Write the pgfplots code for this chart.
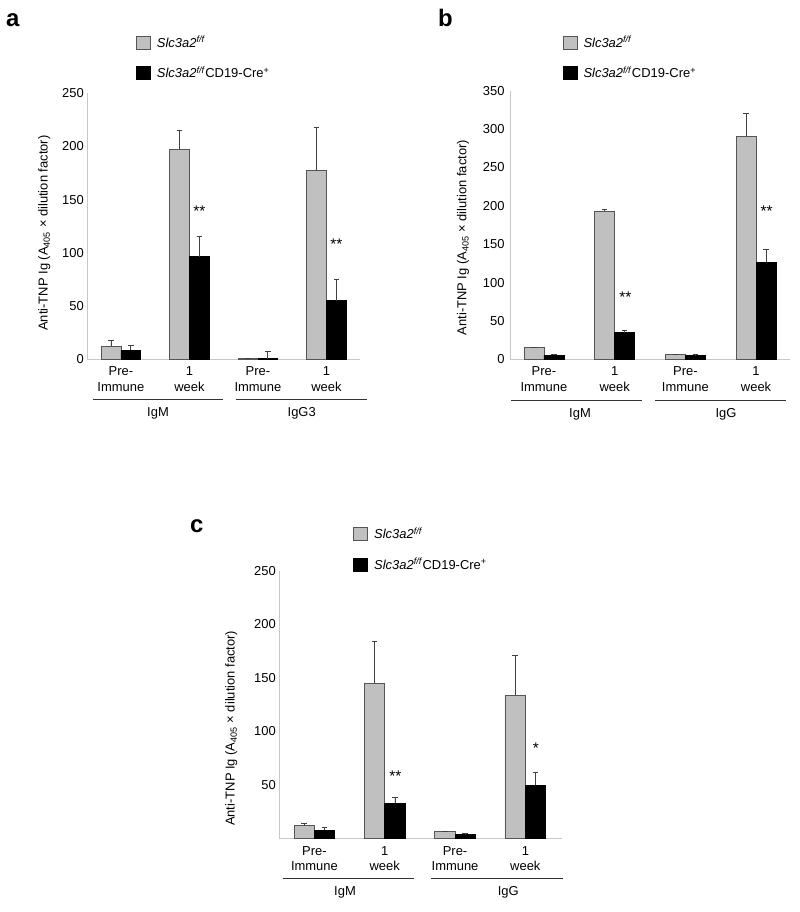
\documentclass[border=0pt]{standalone}
\usepackage{pgfplots}
\pgfplotsset{compat=1.18}
\usepackage{fontspec}
\setmainfont{Liberation Sans}
\definecolor{bargrey}{RGB}{192,192,192}
\definecolor{bardraw}{RGB}{85,85,85}
\definecolor{axgrey}{RGB}{200,200,200}
\newcommand{\fs}{\fontsize{13}{15.7}\selectfont}
\newcommand{\fst}{\fontsize{15.5}{17}\selectfont}
\pgfplotsset{
  panel/.style={
    scale only axis, anchor=south west,
    ybar=0pt,
    axis x line*=bottom, axis y line*=left,
    axis line style={axgrey, line width=0.6bp, -},
    major tick length=0pt,
    xtick={0,1,2,3},
    xticklabels={{Pre-\\Immune},{1\\week},{Pre-\\Immune},{1\\week}},
    xticklabel style={align=center, font=\fs, yshift=-4bp},
    yticklabel style={font=\fs},
    /pgf/number format/assume math mode=true,
    ylabel={Anti-TNP Ig (A\textsubscript{405} × dilution factor)},
    ymin=0, clip=false,
    legend style={draw=none, fill=none, inner sep=0pt, font=\fs, row sep=14bp,
      anchor=north west, cells={anchor=west}},
    legend image code/.code={\draw[##1] (0bp,-6.5bp) rectangle (14bp,6.5bp); \path (18bp,0bp);},
  },
  errs/.style={error bars/.cd, y dir=plus, y explicit,
    error bar style={line width=0.7bp, black!75},
    error mark options={rotate=90, mark size=2.8bp, line width=0.7bp, black!75}},
  greybar/.style={fill=bargrey, draw=bardraw, line width=0.7bp, bar shift=-#1},
  blackbar/.style={fill=black, draw=black, line width=0.7bp, bar shift=#1},
}
\begin{document}
\begin{tikzpicture}[x=1bp,y=1bp]
\path[use as bounding box] (0,0) rectangle (800,912);
% Panel a
\begin{axis}[panel, at={(87.3bp,553bp)}, width=272.7bp, height=265.7bp,
  xmin=-0.49, xmax=3.49, ymax=250, ytick={0,50,...,250}, bar width=0.29,
  ylabel style={font=\fs, at={(ticklabel cs:0.474)}}, ylabel shift=5bp,
  legend style={at={(axis description cs:0.1786,1.223)}}]
\addplot[greybar=0.145, errs] coordinates {(0,12.2) +- (0,5.1) (1,197.3) +- (0,18.2) (2,0.3) +- (0,0) (3,177.2) +- (0,40.5)};
\addplot[blackbar=0.145, errs] coordinates {(0,8.2) +- (0,4.3) (1,96.3) +- (0,19.4) (2,0.3) +- (0,6.6) (3,54.9) +- (0,20.1)};
\legend{\textit{Slc3a2}\textsuperscript{\textit{f/f}}, \textit{Slc3a2}\textsuperscript{\textit{f/f}}CD19-Cre\textsuperscript{+}}
\node[font=\fst] at (axis cs:1.145,139) {**};
\node[font=\fst] at (axis cs:3.145,108) {**};
\end{axis}
% Panel b
\begin{axis}[panel, at={(510bp,552.7bp)}, width=280bp, height=268.6bp,
  xmin=-0.48, xmax=3.48, ymax=350, ytick={0,50,...,350}, bar width=0.283,
  yticklabel style={xshift=-2bp},
  ylabel style={font=\fs, at={(ticklabel cs:0.453)}}, ylabel shift=7bp,
  legend style={at={(axis description cs:0.188,1.211)}}]
\addplot[greybar=0.1415, errs] coordinates {(0,15.6) +- (0,0) (1,192.8) +- (0,2.6) (2,6.5) +- (0,0.5) (3,290) +- (0,30.5)};
\addplot[blackbar=0.1415, errs] coordinates {(0,5.2) +- (0,1.8) (1,34.7) +- (0,3.1) (2,4.8) +- (0,2.2) (3,126.4) +- (0,16.9)};
\legend{\textit{Slc3a2}\textsuperscript{\textit{f/f}}, \textit{Slc3a2}\textsuperscript{\textit{f/f}}CD19-Cre\textsuperscript{+}}
\node[font=\fst] at (axis cs:1.15,80.5) {**};
\node[font=\fst] at (axis cs:3.15,193.5) {**};
\end{axis}
% Panel c
\begin{axis}[panel, at={(279.3bp,73.3bp)}, width=282.4bp, height=268bp,
  xmin=-0.5, xmax=3.517, ymax=250, ytick={50,100,...,250}, bar width=0.29,
  ylabel style={font=\fs, at={(ticklabel cs:0.412)}}, ylabel shift=10bp,
  legend style={at={(axis description cs:0.262,1.168)}}]
\addplot[greybar=0.145, errs] coordinates {(0,12.1) +- (0,2.2) (1,145) +- (0,39.4) (2,6.5) +- (0,0) (3,133.7) +- (0,37.1)};
\addplot[blackbar=0.145, errs] coordinates {(0,8.1) +- (0,2.2) (1,33.3) +- (0,5) (2,4) +- (0,0.7) (3,50) +- (0,11.9)};
\legend{\textit{Slc3a2}\textsuperscript{\textit{f/f}}, \textit{Slc3a2}\textsuperscript{\textit{f/f}}CD19-Cre\textsuperscript{+}}
\node[font=\fst] at (axis cs:1.15,58.5) {**};
\node[font=\fst] at (axis cs:3.15,84.8) {*};
\end{axis}
% group lines and labels
\begin{scope}[line width=0.8bp, black!80]
\draw (92.7,513) -- (223,513); \draw (236,513) -- (367,513);
\draw (511,512) -- (642,512); \draw (655,512) -- (786,512);
\draw (282.7,33.7) -- (414.3,33.7); \draw (430.7,33.7) -- (562.7,33.7);
\end{scope}
\node[font=\fs, anchor=base] at (158,495) {IgM};
\node[font=\fs, anchor=base] at (301.7,495) {IgG3};
\node[font=\fs, anchor=base] at (580,494.7) {IgM};
\node[font=\fs, anchor=base] at (726,494.7) {IgG};
\node[font=\fs, anchor=base] at (345,16) {IgM};
\node[font=\fs, anchor=base] at (508.3,16) {IgG};
% panel letters
\node[font=\fontsize{24}{28}\selectfont\bfseries, anchor=base west, inner sep=0pt] at (6,885) {a};
\node[font=\fontsize{24}{28}\selectfont\bfseries, anchor=base west, inner sep=0pt] at (438,885) {b};
\node[font=\fontsize{24}{28}\selectfont\bfseries, anchor=base west, inner sep=0pt] at (190,379) {c};
\end{tikzpicture}
\end{document}
